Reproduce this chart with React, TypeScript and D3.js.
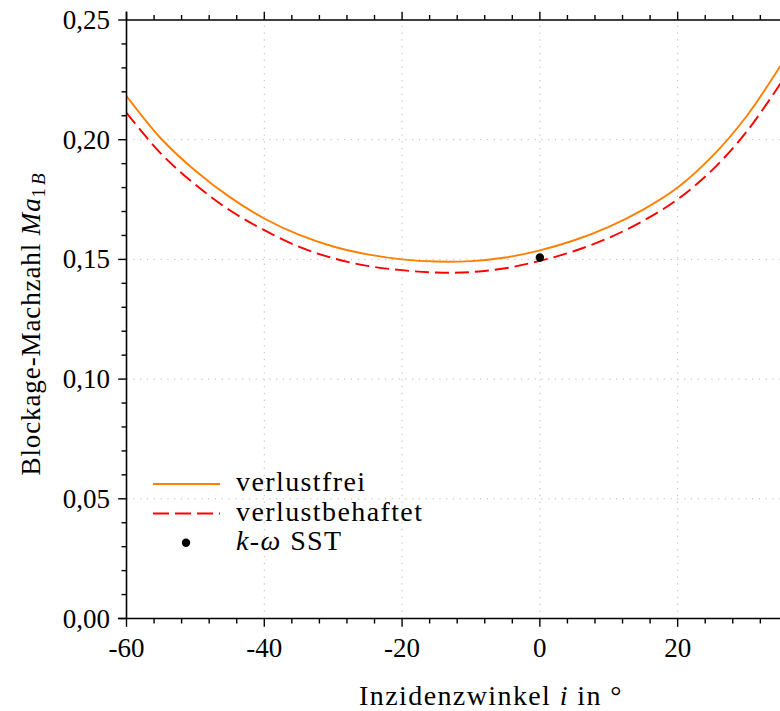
import React from "react";
import * as d3 from "d3";

const angles = [-60, -55, -50, -45, -40, -35, -30, -25, -20, -15, -10, -5, 0, 5, 10, 15, 20, 25, 30, 35];
const lossless = [0.2182, 0.2005, 0.187, 0.176, 0.1671, 0.1603, 0.1554, 0.1521, 0.15, 0.1491, 0.1493, 0.1508, 0.1538, 0.158, 0.1636, 0.1708, 0.18, 0.193, 0.2098, 0.2312];
const lossy = [0.2112, 0.1942, 0.1812, 0.1705, 0.1622, 0.1553, 0.1505, 0.1473, 0.1455, 0.1445, 0.1447, 0.1463, 0.1494, 0.1535, 0.159, 0.1661, 0.1751, 0.1873, 0.2033, 0.2238];
const sstX = [0];
const sstY = [0.1508];

const xMajor = [-60, -40, -20, 0, 20];
const xTickLabels = ["-60", "-40", "-20", "0", "20"];
const yMajor = [0, 0.05, 0.1, 0.15, 0.2, 0.25];
const yTickLabels = ["0,00", "0,05", "0,10", "0,15", "0,20", "0,25"];
const legendLabels = ["verlustfrei", "verlustbehaftet", "SST"];

const FONT = "Liberation Serif, DejaVu Serif, serif";

export default function App() {
  const W = 780, H = 711;
  const L = 126.5, R = 781, T = 20, B = 618.5;
  const x = d3.scaleLinear().domain([-60, 35]).range([L, R]);
  const y = d3.scaleLinear().domain([0, 0.25]).range([B, T]);

  const xMinor = d3.range(-60, 35.01, 4);
  const yMinor = d3.range(0, 0.2501, 0.01);

  const line = d3
    .line<[number, number]>()
    .x((d) => x(d[0]))
    .y((d) => y(d[1]))
    .curve(d3.curveCatmullRom.alpha(0.5));

  const orangeD = line(angles.map((a, i) => [a, lossless[i]] as [number, number])) || "";
  const redD = line(angles.map((a, i) => [a, lossy[i]] as [number, number])) || "";

  const fs = 27;
  const fs2 = 28;
  const orange = "#ff8000";
  const red = "#ff0000";
  const ts: React.CSSProperties = { fontFamily: FONT };

  return (
    <svg
      width={W}
      height={H}
      style={{ position: "absolute", left: 0, top: 0, background: "#fff", fontFamily: FONT }}
    >
      <rect x={0} y={0} width={W} height={H} fill="#fff" />
      <defs>
        <clipPath id="plotclip">
          <rect x={L} y={T} width={R - L} height={B - T} />
        </clipPath>
      </defs>
      {xMajor.filter((v) => v > -60).map((v) => (
        <line key={"gx" + v} x1={x(v)} x2={x(v)} y1={B} y2={T} stroke="#b8b8b8" strokeWidth={1} strokeDasharray="1.2,5.6" />
      ))}
      {yMajor.filter((v) => v > 0 && v < 0.25).map((v) => (
        <line key={"gy" + v} x1={L} x2={R} y1={y(v)} y2={y(v)} stroke="#b8b8b8" strokeWidth={1} strokeDasharray="1.2,5.6" />
      ))}
      <g clipPath="url(#plotclip)">
        <path d={orangeD} fill="none" stroke={orange} strokeWidth={1.9} />
        <path d={redD} fill="none" stroke={red} strokeWidth={1.9} strokeDasharray="14,6" />
        {sstX.map((v, i) => (
          <circle key={"s" + i} cx={x(v)} cy={y(sstY[i])} r={4.2} fill="#000" />
        ))}
      </g>
      <line x1={L} x2={L} y1={T - 8.3} y2={B} stroke="#000" strokeWidth={1.6} />
      <line x1={L - 8.3} x2={R} y1={B} y2={B} stroke="#000" strokeWidth={1.6} />
      <line x1={L} x2={R} y1={T} y2={T} stroke="#000" strokeWidth={1.6} />
      {xMinor.map((v) => {
        const major = Math.abs(v % 20) < 1e-9;
        const len = major ? 8.3 : 5;
        return (
          <g key={"xt" + v}>
            <line x1={x(v)} x2={x(v)} y1={B} y2={B + len} stroke="#000" strokeWidth={1.4} />
            <line x1={x(v)} x2={x(v)} y1={T} y2={T - len} stroke="#000" strokeWidth={1.4} />
          </g>
        );
      })}
      {yMinor.map((v, i) => {
        const major = i % 5 === 0;
        const len = major ? 8.3 : 5;
        return <line key={"yt" + i} x1={L} x2={L - len} y1={y(v)} y2={y(v)} stroke="#000" strokeWidth={1.4} />;
      })}
      {xMajor.map((v, i) => (
        <text key={"xl" + v} x={x(v)} y={657} textAnchor="middle" fontSize={fs} fill="#000" style={ts}>
          {xTickLabels[i]}
        </text>
      ))}
      {yMajor.map((v, i) => (
        <text key={"yl" + v} x={110} y={y(v) + 9} textAnchor="end" fontSize={fs} fill="#000" style={ts}>
          {yTickLabels[i]}
        </text>
      ))}
      <text x={491} y={705} textAnchor="middle" fontSize={fs2} fill="#000" style={ts} letterSpacing={1.4}>
        Inzidenzwinkel <tspan fontStyle="italic">i</tspan> in °
      </text>
      <text transform="translate(40,324) rotate(-90)" textAnchor="middle" fontSize={fs} fill="#000" style={ts} letterSpacing={0.9}>
        Blockage-Machzahl <tspan fontStyle="italic">Ma</tspan>
        <tspan fontSize={19} dy={5}>1</tspan>
        <tspan fontSize={19} fontStyle="italic" dx={2}>B</tspan>
      </text>
      <line x1={153} x2={220} y1={484} y2={484} stroke={orange} strokeWidth={1.9} />
      <line x1={153} x2={220} y1={513.5} y2={513.5} stroke={red} strokeWidth={1.9} strokeDasharray="16,6" />
      <circle cx={186} cy={542.7} r={4.2} fill="#000" />
      <text x={236} y={491} fontSize={fs2} fill="#000" style={ts} letterSpacing={1.4}>{legendLabels[0]}</text>
      <text x={236} y={520.5} fontSize={fs2} fill="#000" style={ts} letterSpacing={1.4}>{legendLabels[1]}</text>
      <text x={236} y={550} fontSize={fs2} fill="#000" style={ts} letterSpacing={1.4}>
        <tspan fontStyle="italic">k</tspan>-<tspan fontStyle="italic">ω</tspan> {legendLabels[2]}
      </text>
    </svg>
  );
}
